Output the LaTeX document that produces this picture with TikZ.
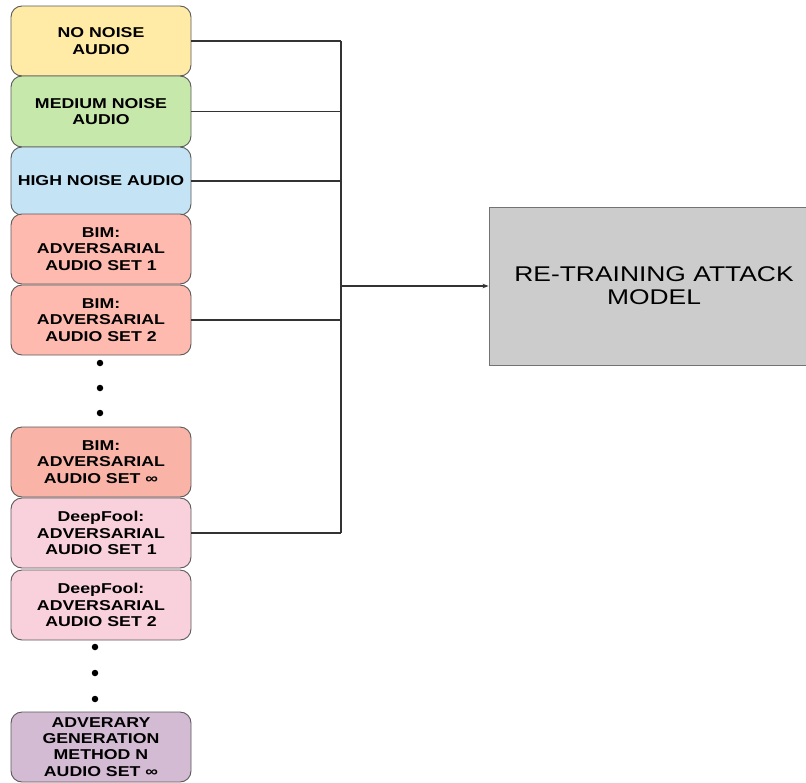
\documentclass[tikz,border=0pt]{standalone}
\usepackage{fontspec}
\setmainfont{Liberation Sans}[FakeStretch=1.24]
\usetikzlibrary{arrows.meta}
\definecolor{cyellow}{HTML}{FFEAA6}
\definecolor{cgreen}{HTML}{C6E8AA}
\definecolor{cblue}{HTML}{C4E4F6}
\definecolor{csalmon}{HTML}{FFBAB0}
\definecolor{csalmondk}{HTML}{F9B4A7}
\definecolor{cpink}{HTML}{F9D1DC}
\definecolor{cpurple}{HTML}{D3BBD3}
\definecolor{cgray}{HTML}{CCCCCC}
\definecolor{cborder}{HTML}{5A5A5A}
\definecolor{cline}{HTML}{333333}
\tikzset{
  srcbox/.style={draw=cborder, line width=0.9pt, rounded corners=11pt,
    minimum width=180pt, align=center, inner sep=2pt,
    font=\bfseries\fontsize{14.3}{16.2}\selectfont},
  wire/.style={draw=cline, line width=1.2pt},
  dotmark/.style={circle, fill=black, inner sep=0pt, minimum size=6.5pt},
  modelbox/.style={draw=gray!90!black, line width=0.9pt, fill=cgray,
    minimum width=330pt, minimum height=158pt, align=center,
    font=\fontsize{21.3}{23}\selectfont}
}
\begin{document}
\begin{tikzpicture}[x=1pt,y=-1pt]
\clip (0,0) rectangle (806,782);
\fill[white] (0,0) rectangle (806,782);

\node[srcbox, fill=cyellow, minimum height=70pt] (n1) at (101,41) {NO NOISE\\AUDIO};
\node[srcbox, fill=cgreen, minimum height=71pt] (n2) at (101,111.5) {MEDIUM NOISE\\AUDIO};
\node[srcbox, fill=cblue, minimum height=68pt] (n3) at (101,181) {HIGH NOISE AUDIO};
\node[srcbox, fill=csalmon, minimum height=70pt] (n4) at (101,249) {BIM:\\ADVERSARIAL\\AUDIO SET 1};
\node[srcbox, fill=csalmon, minimum height=70pt] (n5) at (101,320) {BIM:\\ADVERSARIAL\\AUDIO SET 2};
\node[srcbox, fill=csalmondk, minimum height=70pt] (n6) at (101,462) {BIM:\\ADVERSARIAL\\AUDIO SET ∞};
\node[srcbox, fill=cpink, minimum height=70pt] (n7) at (101,533) {DeepFool:\\ADVERSARIAL\\AUDIO SET 1};
\node[srcbox, fill=cpink, minimum height=70pt] (n8) at (101,605) {DeepFool:\\ADVERSARIAL\\AUDIO SET 2};
\node[srcbox, fill=cpurple, minimum height=70pt] (n9) at (101,747) {ADVERARY\\GENERATION\\METHOD N\\AUDIO SET ∞};

\node[dotmark] (d1) at (100,363) {};
\node[dotmark] (d2) at (100,388) {};
\node[dotmark] (d3) at (100,413) {};
\node[dotmark] (d4) at (95,647) {};
\node[dotmark] (d5) at (95,673) {};
\node[dotmark] (d6) at (95,699) {};

\node[modelbox] (m) at (654,286) {RE-TRAINING ATTACK\\MODEL};

\coordinate (bus) at (341,0);
\draw[wire] (n1.east) -- (n1.east -| bus);
\draw[wire] (n2.east) -- (n2.east -| bus);
\draw[wire] (n3.east) -- (n3.east -| bus);
\draw[wire] (n5.east) -- (n5.east -| bus);
\draw[wire] (n7.east) -- (n7.east -| bus);
\draw[wire] (n1.east -| bus) -- (n7.east -| bus);
\draw[wire, -{Stealth[length=6pt,width=4.5pt]}] (bus |- m.west) -- (m.west);
\end{tikzpicture}
\end{document}
